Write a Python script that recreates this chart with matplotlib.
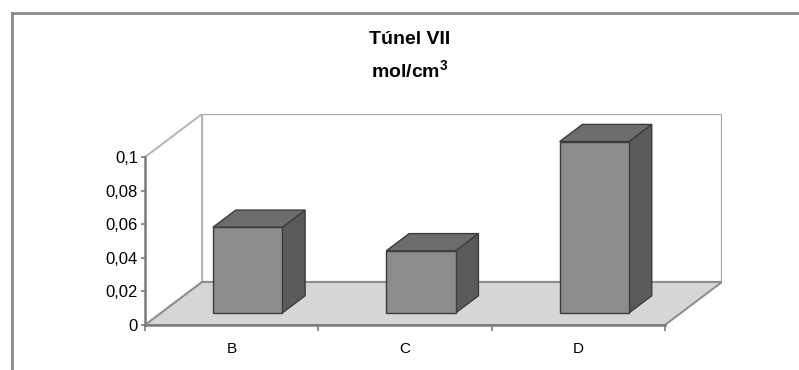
import matplotlib
matplotlib.use("Agg")
import matplotlib.pyplot as plt
from matplotlib.patches import Polygon
from matplotlib.lines import Line2D
from matplotlib.ticker import FixedLocator

plt.rcParams['font.family'] = ['Liberation Sans', 'DejaVu Sans']
plt.rcParams['mathtext.fontset'] = 'custom'
plt.rcParams['mathtext.rm'] = 'Liberation Sans'
plt.rcParams['mathtext.bf'] = 'Liberation Sans:bold'

# ---- data ----
categories = ["B", "C", "D"]
values = [0.051, 0.037, 0.102]
yticks = [0, 0.02, 0.04, 0.06, 0.08, 0.1]
ytick_labels = ["0", "0,02", "0,04", "0,06", "0,08", "0,1"]
title_line1 = "Túnel VII"
title_line2 = r"mol/cm$^{\mathbf{3}}$"

# ---- layout / style ----
W, H = 799, 370
YMAX = 0.1
DX = 0.329      # depth offset in category units
DY = 0.0256     # depth offset in value units
BAR_HALF = 0.2
D0, D1 = 0.28, 0.68

fig = plt.figure(figsize=(W / 100, H / 100), dpi=100)
fig.patch.set_facecolor("white")

ax = fig.add_axes([145 / W, (H - 325) / H, 577 / W, 211 / H])
n = len(categories)
ax.set_xlim(-0.5, n - 0.5 + DX)
ax.set_ylim(0, YMAX + DY)
ax.patch.set_alpha(0)


def P(x, y, d):
    return (x + d * DX, y + d * DY)


def poly(pts, fc, ec, lw=1.0, z=1):
    ax.add_patch(Polygon(pts, closed=True, facecolor=fc, edgecolor=ec,
                         linewidth=lw, zorder=z, joinstyle="miter"))


xl, xr = -0.5, n - 0.5
# back wall
poly([P(xl, 0, 1), P(xr, 0, 1), P(xr, YMAX, 1), P(xl, YMAX, 1)],
     "white", "#a8a8a8", 1.6, 0.5)
# left wall
poly([P(xl, 0, 0), P(xl, 0, 1), P(xl, YMAX, 1), P(xl, YMAX, 0)],
     "white", "#b4b4b4", 1.4, 0.6)
# floor
poly([P(xl, 0, 0), P(xr, 0, 0), P(xr, 0, 1), P(xl, 0, 1)],
     "#d6d6d6", "#8c8c8c", 1.4, 0.7)

# bars
for i, v in enumerate(values):
    x0, x1 = i - BAR_HALF, i + BAR_HALF
    ec = "#3c3c3c"
    # side
    poly([P(x1, 0, D0), P(x1, 0, D1), P(x1, v, D1), P(x1, v, D0)],
         "#5a5a5a", ec, 1.0, 2)
    # top
    poly([P(x0, v, D0), P(x1, v, D0), P(x1, v, D1), P(x0, v, D1)],
         "#6c6c6c", ec, 1.0, 2)
    # front
    poly([P(x0, 0, D0), P(x1, 0, D0), P(x1, v, D0), P(x0, v, D0)],
         "#8c8c8c", ec, 1.0, 3)

# axes spines
for s in ["top", "right"]:
    ax.spines[s].set_visible(False)
for s in ["left", "bottom"]:
    ax.spines[s].set_color("#7a7a7a")
    ax.spines[s].set_linewidth(1.8)
ax.spines["left"].set_bounds(0, YMAX)
ax.spines["bottom"].set_bounds(xl, xr)

ax.set_yticks(yticks)
ax.set_yticklabels(ytick_labels, fontsize=12)
ax.tick_params(axis="y", length=3, width=1.2, color="#7a7a7a", pad=2)

ax.set_xticks(range(n))
ax.set_xticklabels(categories, fontsize=11)
ax.tick_params(axis="x", which="major", length=0, pad=12)
ax.xaxis.set_minor_locator(FixedLocator([k - 0.5 for k in range(n + 1)]))
ax.tick_params(axis="x", which="minor", length=4, width=1.2,
               color="#7a7a7a", direction="out")

# titles
fig.text(410 / W, 1 - 39 / H, title_line1, ha="center", va="center",
         fontsize=14, fontweight="bold")
fig.text(410 / W, 1 - 71 / H, title_line2, ha="center", va="center",
         fontsize=14, fontweight="bold")

# outer frame (top and left visible)
fig.add_artist(Line2D([12 / W, 1.0], [1 - 13 / H, 1 - 13 / H],
                      transform=fig.transFigure, color="#8a8a8a", lw=2))
fig.add_artist(Line2D([12 / W, 12 / W], [0, 1 - 13 / H],
                      transform=fig.transFigure, color="#8a8a8a", lw=2))

fig.savefig("out.png", dpi=100)
